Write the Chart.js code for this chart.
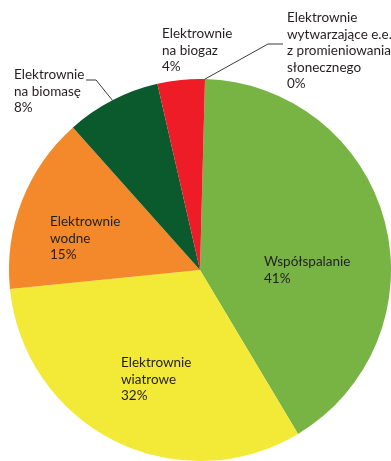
<!DOCTYPE html>
<html>
<head>
<meta charset="utf-8">
<script src="https://cdn.jsdelivr.net/npm/chart.js@4"></script>
<style>
  html, body { margin: 0; padding: 0; background: #fff; }
  #wrap { width: 391px; height: 461px; position: relative; }
</style>
</head>
<body>
<div id="wrap"><canvas id="chart"></canvas></div>
<script>
const categories = [
  'Współspalanie',
  'Elektrownie wiatrowe',
  'Elektrownie wodne',
  'Elektrownie na biomasę',
  'Elektrownie na biogaz',
  'Elektrownie wytwarzające e.e. z promieniowania słonecznego'
];
const shares = [41, 32, 15, 8, 4, 0];
const labelLines = [
  ['Współspalanie', '41%'],
  ['Elektrownie', 'wiatrowe', '32%'],
  ['Elektrownie', 'wodne', '15%'],
  ['Elektrownie', 'na biomasę', '8%'],
  ['Elektrownie', 'na biogaz', '4%'],
  ['Elektrownie', 'wytwarzające e.e.', 'z promieniowania', 'słonecznego', '0%']
];
const colors = ['#78b444', '#f3ea37', '#f3892a', '#0b5a2d', '#ed1c26', '#78b444'];

// where each label block starts (left x, first line middle y) and its leader line
const labelPos = [
  { x: 264, y: 262 },
  { x: 121, y: 363 },
  { x: 50, y: 222 },
  { x: 14, y: 75, leader: [[96, 80], [86, 80]] },
  { x: 162, y: 34 },
  { x: 287, y: 18, leader: [[268, 44], [283, 44]] }
];
const lineH = 16.4;

const labelPlugin = {
  id: 'pieLabels',
  afterDatasetsDraw(chart) {
    const ctx = chart.ctx;
    const arcs = chart.getDatasetMeta(0).data;
    ctx.save();
    ctx.font = '13.5px Lato, "Open Sans", sans-serif';
    ctx.fillStyle = '#231f20';
    ctx.textBaseline = 'middle';
    ctx.textAlign = 'left';
    labelLines.forEach((lines, i) => {
      const p = labelPos[i];
      lines.forEach((t, j) => ctx.fillText(t, p.x, p.y + j * lineH));
      if (p.leader) {
        const a = arcs[i].getProps(['x', 'y', 'startAngle', 'endAngle', 'outerRadius'], true);
        const mid = (a.startAngle + a.endAngle) / 2;
        const sx = a.x + Math.cos(mid) * a.outerRadius;
        const sy = a.y + Math.sin(mid) * a.outerRadius;
        ctx.strokeStyle = '#3a3a3a';
        ctx.lineWidth = 1;
        ctx.beginPath();
        ctx.moveTo(sx, sy);
        p.leader.forEach(pt => ctx.lineTo(pt[0], pt[1]));
        ctx.stroke();
      }
    });
    ctx.restore();
  }
};

new Chart(document.getElementById('chart'), {
  type: 'pie',
  data: {
    labels: categories,
    datasets: [{
      data: shares,
      backgroundColor: colors,
      borderWidth: 0
    }]
  },
  options: {
    responsive: true,
    maintainAspectRatio: false,
    animation: false,
    rotation: 1.5,
    layout: { padding: { left: 9, top: 79, right: 0, bottom: 0 } },
    plugins: {
      legend: { display: false },
      tooltip: { enabled: false }
    }
  },
  plugins: [labelPlugin]
});
</script>
</body>
</html>
